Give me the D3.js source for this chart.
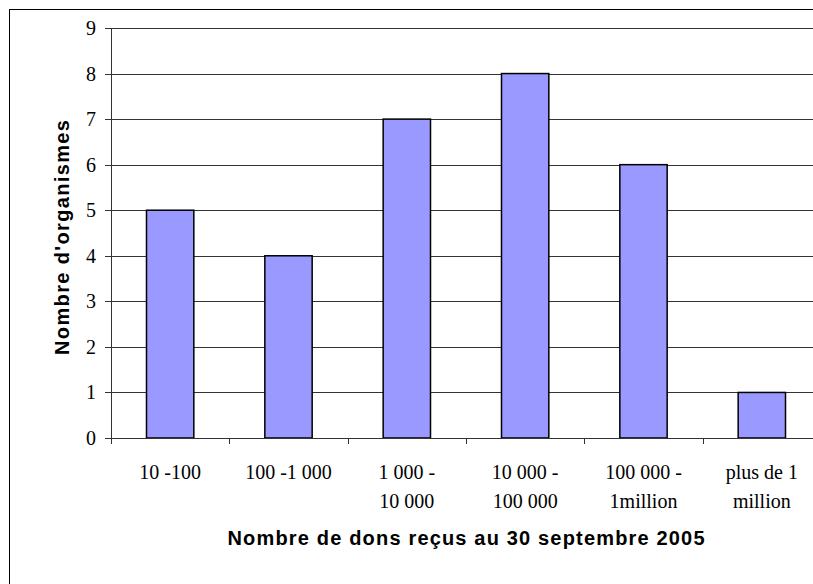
<!DOCTYPE html>
<html>
<head>
<meta charset="utf-8">
<script src="https://cdn.jsdelivr.net/npm/d3@7"></script>
<style>
  body { margin: 0; background: #fff; }
  svg { display: block; }
</style>
</head>
<body>
<script>
// categories (two lines each) and counts
var categories = [
  ["10 -100"],
  ["100 -1 000"],
  ["1 000 -", "10 000"],
  ["10 000 -", "100 000"],
  ["100 000 -", "1million"],
  ["plus de 1", "million"]
];
var values = [5, 4, 7, 8, 6, 1];
var yTicks = [0, 1, 2, 3, 4, 5, 6, 7, 8, 9];

var width = 813, height = 584;
var plotLeft = 111, plotRight = 821, plotTop = 28, plotBottom = 438;

var svg = d3.select("body")
  .append("svg")
  .attr("width", width)
  .attr("height", height);

// outer chart border (runs off the right and bottom edges)
svg.append("rect")
  .attr("x", 9.5).attr("y", 9.5)
  .attr("width", 900).attr("height", 700)
  .attr("fill", "#fff")
  .attr("stroke", "#000")
  .attr("stroke-width", 1);

var x = d3.scaleBand()
  .domain(d3.range(categories.length))
  .range([plotLeft, plotRight])
  .padding(0);

var y = d3.scaleLinear()
  .domain([0, 9])
  .range([plotBottom, plotTop]);

// gridlines
svg.selectAll(".grid")
  .data(yTicks.filter(function(d) { return d > 0; }))
  .enter()
  .append("line")
  .attr("class", "grid")
  .attr("x1", plotLeft).attr("x2", plotRight)
  .attr("y1", function(d) { return Math.round(y(d)) + 0.5; })
  .attr("y2", function(d) { return Math.round(y(d)) + 0.5; })
  .attr("stroke", "#333")
  .attr("stroke-width", 1);

// bars
var barW = x.bandwidth() * 0.4;
svg.selectAll(".bar")
  .data(values)
  .enter()
  .append("rect")
  .attr("class", "bar")
  .attr("x", function(d, i) { return x(i) + (x.bandwidth() - barW) / 2; })
  .attr("y", function(d) { return y(d); })
  .attr("width", barW)
  .attr("height", function(d) { return y(0) - y(d); })
  .attr("fill", "#9999FF")
  .attr("stroke", "#000")
  .attr("stroke-width", 1.5);

// y axis
svg.append("line")
  .attr("x1", plotLeft + 0.5).attr("x2", plotLeft + 0.5)
  .attr("y1", plotTop).attr("y2", plotBottom + 6)
  .attr("stroke", "#333");

svg.selectAll(".ytick")
  .data(yTicks)
  .enter()
  .append("line")
  .attr("x1", plotLeft - 6).attr("x2", plotLeft)
  .attr("y1", function(d) { return Math.round(y(d)) + 0.5; })
  .attr("y2", function(d) { return Math.round(y(d)) + 0.5; })
  .attr("stroke", "#333");

svg.selectAll(".ylabel")
  .data(yTicks)
  .enter()
  .append("text")
  .attr("x", 96)
  .attr("y", function(d) { return y(d) + 7; })
  .attr("text-anchor", "end")
  .attr("font-family", "Liberation Serif, Times New Roman, serif")
  .attr("font-size", 20)
  .text(function(d) { return d; });

// x axis
svg.append("line")
  .attr("x1", plotLeft).attr("x2", plotRight)
  .attr("y1", plotBottom + 0.5).attr("y2", plotBottom + 0.5)
  .attr("stroke", "#333");

svg.selectAll(".xtick")
  .data(d3.range(categories.length + 1))
  .enter()
  .append("line")
  .attr("x1", function(i) { return Math.round(plotLeft + i * x.step()) + 0.5; })
  .attr("x2", function(i) { return Math.round(plotLeft + i * x.step()) + 0.5; })
  .attr("y1", plotBottom).attr("y2", plotBottom + 6)
  .attr("stroke", "#333");

var labels = svg.selectAll(".xlabel")
  .data(categories)
  .enter()
  .append("text")
  .attr("class", "xlabel")
  .attr("text-anchor", "middle")
  .attr("font-family", "Liberation Serif, Times New Roman, serif")
  .attr("font-size", 20);

labels.selectAll("tspan")
  .data(function(d, i) { return d.map(function(t) { return {t: t, i: i}; }); })
  .enter()
  .append("tspan")
  .attr("x", function(d) { return x(d.i) + x.bandwidth() / 2; })
  .attr("y", function(d, j) { return 479 + j * 28.5; })
  .text(function(d) { return d.t; });

// axis titles
svg.append("text")
  .attr("x", (plotLeft + plotRight) / 2)
  .attr("y", 544.5)
  .attr("text-anchor", "middle")
  .attr("font-family", "Liberation Sans, Arial, sans-serif")
  .attr("font-weight", "bold")
  .attr("font-size", 20)
  .attr("textLength", 477)
  .attr("lengthAdjust", "spacing")
  .text("Nombre de dons reçus au 30 septembre 2005");

svg.append("text")
  .attr("transform", "translate(69,237.5) rotate(-90)")
  .attr("text-anchor", "middle")
  .attr("font-family", "Liberation Sans, Arial, sans-serif")
  .attr("font-weight", "bold")
  .attr("font-size", 20)
  .attr("textLength", 235)
  .attr("lengthAdjust", "spacing")
  .text("Nombre d'organismes");
</script>
</body>
</html>
